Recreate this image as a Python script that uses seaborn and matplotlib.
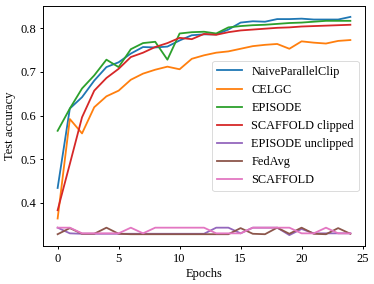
import matplotlib
matplotlib.use("Agg")
import matplotlib.pyplot as plt
import seaborn as sns
import numpy as np
import pandas as pd

epochs = list(range(25))

naive_parallel_clip = [0.434, 0.616, 0.642, 0.680, 0.711, 0.722, 0.742, 0.757, 0.756, 0.758,
                       0.772, 0.784, 0.786, 0.786, 0.797, 0.813, 0.816, 0.815, 0.821, 0.821,
                       0.822, 0.820, 0.820, 0.820, 0.826]
celgc = [0.364, 0.592, 0.559, 0.619, 0.644, 0.657, 0.682, 0.696, 0.705, 0.712,
         0.706, 0.730, 0.738, 0.744, 0.747, 0.753, 0.759, 0.762, 0.764, 0.753,
         0.770, 0.767, 0.765, 0.771, 0.773]
episode = [0.565, 0.616, 0.662, 0.692, 0.728, 0.711, 0.752, 0.766, 0.769, 0.728,
           0.788, 0.791, 0.792, 0.788, 0.802, 0.805, 0.807, 0.808, 0.810, 0.812,
           0.813, 0.815, 0.817, 0.817, 0.817]
scaffold_clipped = [0.383, 0.489, 0.596, 0.657, 0.686, 0.707, 0.734, 0.744, 0.757, 0.766,
                    0.778, 0.775, 0.787, 0.785, 0.791, 0.795, 0.797, 0.799, 0.801, 0.802,
                    0.804, 0.805, 0.806, 0.807, 0.808]
episode_unclipped = [0.343, 0.330, 0.329, 0.329, 0.329, 0.329, 0.329, 0.329, 0.329, 0.329,
                     0.329, 0.329, 0.329, 0.343, 0.343, 0.330, 0.343, 0.343, 0.343, 0.326,
                     0.340, 0.330, 0.330, 0.330, 0.330]
fedavg = [0.328, 0.342, 0.329, 0.329, 0.343, 0.329, 0.328, 0.328, 0.328, 0.328,
          0.328, 0.328, 0.328, 0.328, 0.328, 0.342, 0.329, 0.328, 0.343, 0.329,
          0.343, 0.329, 0.328, 0.342, 0.329]
scaffold = [0.343, 0.343, 0.330, 0.330, 0.330, 0.330, 0.343, 0.330, 0.343, 0.343,
            0.343, 0.343, 0.343, 0.330, 0.330, 0.330, 0.343, 0.343, 0.343, 0.343,
            0.330, 0.330, 0.343, 0.330, 0.330]

series_names = ["NaiveParallelClip", "CELGC", "EPISODE", "SCAFFOLD clipped",
                "EPISODE unclipped", "FedAvg", "SCAFFOLD"]
series_values = [naive_parallel_clip, celgc, episode, scaffold_clipped,
                 episode_unclipped, fedavg, scaffold]
x_ticks = [0, 5, 10, 15, 20, 25]
y_ticks = [0.3, 0.4, 0.5, 0.6, 0.7, 0.8]

plt.rcParams['font.family'] = ['Liberation Serif', 'DejaVu Serif']
plt.rcParams['font.size'] = 9
plt.rcParams['axes.linewidth'] = 0.7

fig = plt.figure(figsize=(3.74, 2.84), dpi=100)
ax = fig.add_axes([43 / 374, 1 - 246 / 284, (365 - 43) / 374, (246 - 6) / 284])
palette = sns.color_palette("tab10", len(series_names))
for name, vals, col in zip(series_names, series_values, palette):
    df = pd.DataFrame({"Epochs": epochs, "acc": vals})
    sns.lineplot(data=df, x="Epochs", y="acc", ax=ax, color=col, label=name, linewidth=1.3)

ax.set_xlabel("Epochs", labelpad=2.5)
ax.set_ylabel("Test accuracy", labelpad=3)
ax.set_xticks(x_ticks)
ax.set_yticks(y_ticks)
ax.set_xlim(-1.2, 25.2)
ax.set_ylim(0.301, 0.851)
ax.tick_params(length=2.5, width=0.7, pad=2.5)
leg = ax.legend(loc="center right", fontsize=8.8, handlelength=2.0)
leg.get_frame().set_linewidth(0.6)
fig.savefig("out.png", dpi=100)
